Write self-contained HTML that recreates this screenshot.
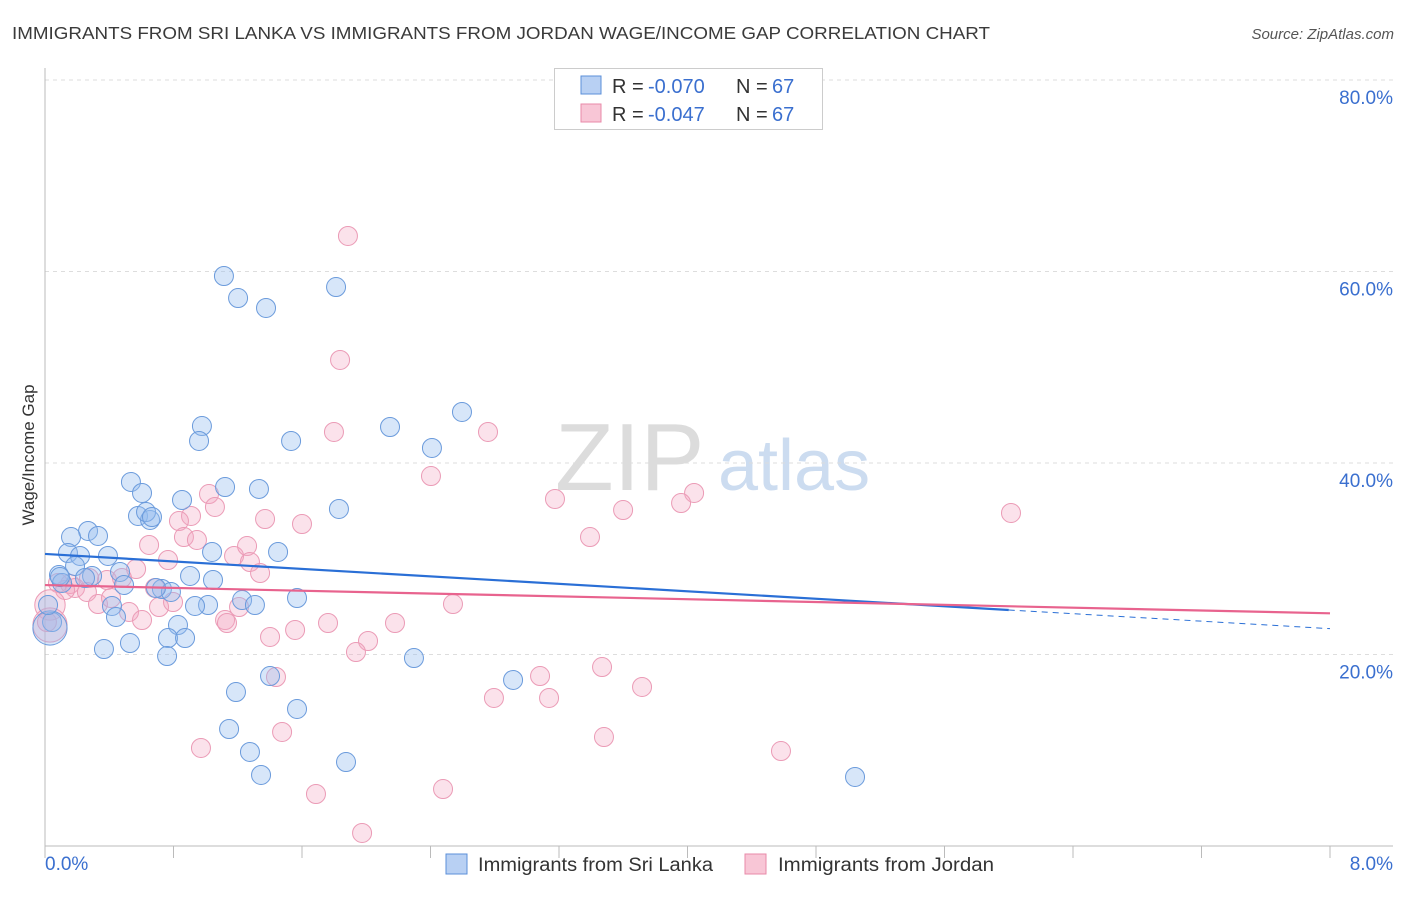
<!DOCTYPE html>
<html><head><meta charset="utf-8"><style>
body{margin:0;background:#fff;font-family:"Liberation Sans",sans-serif;}
svg text{font-family:"Liberation Sans",sans-serif;}
</style></head><body>
<svg id="chart" width="1406" height="892" xmlns="http://www.w3.org/2000/svg">
<text x="12" y="39" font-size="17.5" fill="#3a3a3a" textLength="978" lengthAdjust="spacingAndGlyphs">IMMIGRANTS FROM SRI LANKA VS IMMIGRANTS FROM JORDAN WAGE/INCOME GAP CORRELATION CHART</text>
<text x="1394" y="39" font-size="15" fill="#555" font-style="italic" text-anchor="end">Source: ZipAtlas.com</text>
<g>
<text x="555" y="490" font-size="96" fill="#dcdcdc" font-family="Liberation Serif,serif">ZIP</text>
<text x="718" y="490" font-size="72" fill="#ccdcf0">atlas</text>
</g>
<g id="grid"></g>
<g id="axes"></g>
<g id="marks"></g>
<text transform="translate(34,455) rotate(-90)" font-size="17" fill="#333" text-anchor="middle">Wage/Income Gap</text>
<g>
<rect x="554.500" y="68.500" width="268" height="61" fill="#fff" stroke="#ccc"/>
<g>
<rect x="581" y="76" width="20" height="18" fill="#b8d0f3" stroke="#5b8fd8"/>
<text x="612" y="93" font-size="20" fill="#333">R =</text>
<text x="648" y="93" font-size="20" fill="#3a6fcf">-0.070</text>
<text x="736" y="93" font-size="20" fill="#333">N =</text>
<text x="772" y="93" font-size="20" fill="#3a6fcf">67</text>
</g>
<g>
<rect x="581" y="104" width="20" height="18" fill="#f8c6d6" stroke="#e88aa8"/>
<text x="612" y="121" font-size="20" fill="#333">R =</text>
<text x="648" y="121" font-size="20" fill="#3a6fcf">-0.047</text>
<text x="736" y="121" font-size="20" fill="#333">N =</text>
<text x="772" y="121" font-size="20" fill="#3a6fcf">67</text>
</g>
</g>
<g>
<g>
<rect x="446" y="854" width="21" height="20" fill="#b8d0f3" stroke="#5b8fd8"/>
<text x="478" y="871" font-size="19" fill="#333" textLength="235" lengthAdjust="spacingAndGlyphs">Immigrants from Sri Lanka</text></g>
<g>
<rect x="745" y="854" width="21" height="20" fill="#f8c6d6" stroke="#e88aa8"/>
<text x="778" y="871" font-size="19" fill="#333" textLength="216" lengthAdjust="spacingAndGlyphs">Immigrants from Jordan</text></g>
</g>
</svg>
<script>
const yTicks=[20,40,60,80];
const yTickLabels=["20.0%","40.0%","60.0%","80.0%"];
const xTickCount=10;
const blueX=[1.114,1.202,1.376,1.812,2.596,2.148,0.977,0.959,1.532,2.409,0.535,0.604,1.121,1.332,0.853,1.830,0.579,0.654,0.629,0.666,0.268,0.162,0.330,0.143,0.218,0.392,0.187,1.040,1.451,0.087,0.293,0.467,0.903,1.046,0.492,0.728,0.784,1.569,1.227,1.307,1.015,0.934,0.417,0.442,0.828,0.766,0.872,0.529,0.367,0.760,2.297,1.189,1.401,2.914,1.569,1.146,1.276,1.345,1.874,5.043,0.044,0.031,0.019,0.106,0.691,0.249,0.093];
const blueY=[59.53,57.23,56.19,58.38,45.33,43.76,43.86,42.30,42.30,41.57,38.02,36.87,37.49,37.29,36.14,35.20,34.47,34.05,34.88,34.36,32.90,32.27,32.38,30.60,30.29,30.29,29.24,30.71,30.71,28.30,28.20,28.62,28.20,27.78,27.26,26.84,26.53,25.90,25.69,25.17,25.17,25.07,25.07,23.92,23.08,21.72,21.72,21.20,20.57,19.84,19.63,16.08,17.75,17.34,14.31,12.22,9.82,7.42,8.77,7.21,23.39,22.77,25.17,27.47,26.95,27.99,28.09];
const blueSize=[1,1,1,1,1,1,1,1,1,1,1,1,1,1,1,1,1,1,1,1,1,1,1,1,1,1,1,1,1,1,1,1,1,1,1,1,1,1,1,1,1,1,1,1,1,1,1,1,1,1,1,1,1,1,1,1,1,1,1,1,1,1.8,1,1,1,1,1];
const pinkX=[1.886,1.837,1.799,2.758,2.403,3.175,4.041,3.960,3.599,3.393,6.014,1.021,1.058,0.909,0.834,1.370,1.600,0.648,0.865,0.946,0.766,1.177,1.258,1.276,1.339,0.567,0.386,0.479,0.081,0.156,0.274,0.187,0.125,0.261,0.330,0.411,0.523,0.604,0.710,0.797,1.208,1.121,1.133,0.685,1.401,1.557,1.762,2.011,1.936,2.179,2.540,3.082,3.468,3.717,2.795,3.138,1.438,0.971,1.476,3.480,4.582,1.687,2.478,1.974,0.031,0.031,0.012];
const pinkY=[63.71,50.76,43.24,43.24,38.64,36.24,36.87,35.82,35.09,32.27,34.78,36.76,35.41,34.47,33.94,34.15,33.63,31.44,32.27,31.96,29.87,30.29,31.33,29.66,28.51,28.93,27.78,27.99,27.47,27.36,27.99,26.95,26.74,26.53,25.27,25.90,24.44,23.60,24.96,25.48,24.96,23.60,23.29,26.95,21.83,22.56,23.29,21.41,20.26,23.29,25.27,17.75,18.69,16.61,15.46,15.46,17.65,10.24,11.91,11.38,9.92,5.43,5.95,1.36,25.17,23.08,23.39];
const pinkSize=[1,1,1,1,1,1,1,1,1,1,1,1,1,1,1,1,1,1,1,1,1,1,1,1,1,1,1,1,1,1,1,1,1,1,1,1,1,1,1,1,1,1,1,1,1,1,1,1,1,1,1,1,1,1,1,1,1,1,1,1,1,1,1,1,1.6,1.8,1];
const blueTrend=[30.5,22.7];
const blueSolidEnd=6.0;
const pinkTrend=[27.25,24.3];

const X0=45,X1=1330,Y0=846,YTOP=80;
const sx=v=>X0+(v/8)*(X1-X0);
const sy=v=>Y0-(v/80)*(Y0-YTOP);
const NS="http://www.w3.org/2000/svg";
function mk(tag,attrs,parent){const e=document.createElementNS(NS,tag);for(const k in attrs)e.setAttribute(k,attrs[k]);parent.appendChild(e);return e;}
const grid=document.getElementById('grid'),axes=document.getElementById('axes'),marks=document.getElementById('marks');
yTicks.forEach((t,i)=>{
  const l=mk('line',{x1:X0,x2:1393,y1:sy(t),y2:sy(t),stroke:'#ddd','stroke-dasharray':'4,4'},grid);
  
  
  const tx=mk('text',{x:1393,y:sy(t)+24,'font-size':19,fill:'#3a6fcf','text-anchor':'end'},axes);
  tx.textContent=yTickLabels[i];
  
  
});
const ya=mk('line',{x1:X0,x2:X0,y1:68,y2:Y0,stroke:'#bbb'},axes);


const xa=mk('line',{x1:X0,x2:1393,y1:Y0,y2:Y0,stroke:'#bbb'},axes);


for(let i=0;i<=xTickCount;i++){
  const x=sx(i*8/xTickCount);
  const tk=mk('line',{x1:x,x2:x,y1:Y0,y2:Y0+12,stroke:'#bbb'},axes);
  
  
}
const xl0=mk('text',{x:45,y:870,'font-size':19,fill:'#3a6fcf'},axes);xl0.textContent='0.0%';


const xl1=mk('text',{x:1393,y:870,'font-size':19,fill:'#3a6fcf','text-anchor':'end'},axes);xl1.textContent='8.0%';



function pts(xs,ys,sz,fill,stroke,name){
  xs.forEach((x,i)=>{
    const c=mk('circle',{cx:sx(x),cy:sy(ys[i]),r:9.5*sz[i],fill:fill,stroke:stroke,'stroke-width':1},marks);
    
    
  });
}
pts(pinkX,pinkY,pinkSize,'rgba(244,168,195,0.33)','#eb9bb6','point-jordan');
pts(blueX,blueY,blueSize,'rgba(150,190,240,0.38)','#6b9bdc','point-sri-lanka');

const bAt=x=>blueTrend[0]+(blueTrend[1]-blueTrend[0])*x/8;
const pAt=x=>pinkTrend[0]+(pinkTrend[1]-pinkTrend[0])*x/8;
const bl=mk('line',{x1:sx(0),y1:sy(bAt(0)),x2:sx(blueSolidEnd),y2:sy(bAt(blueSolidEnd)),stroke:'#2a6fd6','stroke-width':2.2},marks);


const bd=mk('line',{x1:sx(blueSolidEnd),y1:sy(bAt(blueSolidEnd)),x2:sx(8),y2:sy(bAt(8)),stroke:'#2a6fd6','stroke-width':1,'stroke-dasharray':'6,5'},marks);


const pl=mk('line',{x1:sx(0),y1:sy(pAt(0)),x2:sx(8),y2:sy(pAt(8)),stroke:'#e8638e','stroke-width':2.2},marks);


</script>
</body></html>
